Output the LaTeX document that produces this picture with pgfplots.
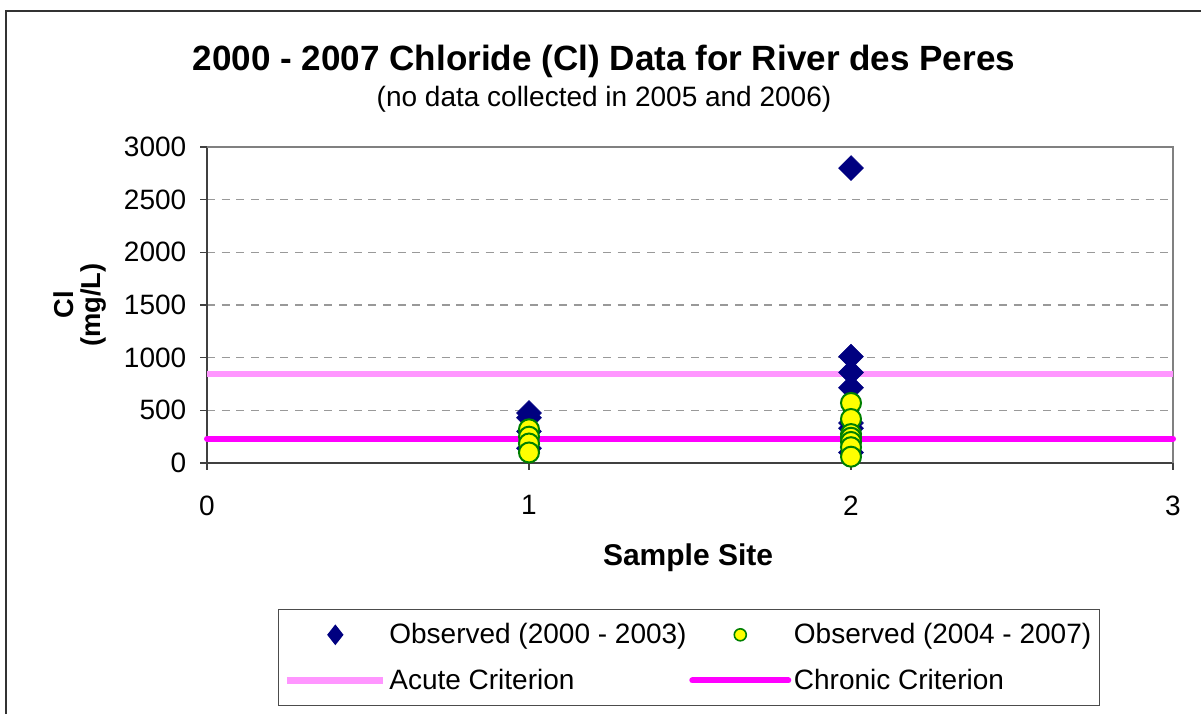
\documentclass[border=0pt]{standalone}
\usepackage{pgfplots}
\pgfplotsset{compat=1.18}
\usepackage{fontspec}
\setmainfont{Liberation Sans}
\definecolor{navy}{RGB}{0,0,128}
\definecolor{mgreen}{RGB}{0,128,0}
\definecolor{myellow}{RGB}{255,255,0}
\definecolor{mmag}{RGB}{255,0,255}
\definecolor{acute}{RGB}{255,150,255}
\begin{document}
\begin{tikzpicture}[x=0.75pt,y=0.75pt]
\useasboundingbox (0,0) rectangle (1201,714);
\draw[line width=1.5pt, black!80] (6,0) -- (6,703) -- (1201,703);
\node[font=\fontsize{26.3}{30}\selectfont\bfseries, anchor=base] at (604,643) {2000 - 2007 Chloride (Cl) Data for River des Peres};
\node[font=\fontsize{21}{25}\selectfont, anchor=base] at (604,607) {(no data collected in 2005 and 2006)};
\begin{axis}[
  at={(155.25pt,188.25pt)}, anchor=south west,
  scale only axis, width=724.5pt, height=237pt,
  xmin=0, xmax=3, ymin=0, ymax=3000,
  xtick={0,1,2,3}, ytick={0,500,...,3000},
  /pgf/number format/1000 sep={},
  /pgf/number format/assume math mode=true,
  ticklabel style={font=\fontsize{21}{25}\selectfont},
  xticklabel style={yshift=-16pt},
  yticklabel style={xshift=-7pt},
  ymajorgrids,
  major grid style={dash pattern=on 6pt off 5pt, black!40, line width=0.9pt},
  axis x line*=bottom, axis y line*=left,
  axis line style={-, black!75, line width=1.4pt},
  tick style={black!75, line width=0.8pt},
  tick align=outside, major tick length=5pt,
  xlabel={Sample Site},
  xlabel style={font=\fontsize{22.5}{26}\selectfont\bfseries, at={(axis description cs:0.498,-0.3)}, anchor=center},
  ylabel={Cl\\(mg/L)},
  ylabel style={font=\fontsize{20.5}{20.5}\selectfont\bfseries, align=center, at={(axis description cs:-0.1315,0.5)}, anchor=center},
  clip=false,
  legend columns=2,
  legend cell align=left,
  legend style={at={(0.0735,-0.462)}, anchor=north west, draw=black!70, line width=1pt,
    font=\fontsize{21}{25}\selectfont, inner xsep=4pt, inner ysep=8.5pt,
    /tikz/every even column/.append style={column sep=0pt},
    row sep=13.5pt},
]
\draw[black!50, line width=1.5pt] (rel axis cs:0,1) -- (rel axis cs:1,1) -- (rel axis cs:1,0);
\addplot[acute, line width=5pt, forget plot] coordinates {(0,845) (3,845)};
\addplot[mmag, line width=4.5pt, line cap=round, forget plot] coordinates {(0,230) (3,230)};

\addplot[only marks, mark=square*, mark size=6.6pt, mark options={rotate=45, fill=navy, draw=navy},
  legend image code/.code={\path[draw=none,fill=none] (0pt,0pt) -- (72pt,0pt); \fill[navy] (36pt,7pt) -- (30.5pt,0pt) -- (36pt,-7pt) -- (41.5pt,0pt) -- cycle;}]
coordinates {
(1,475) (1,430) (1,300) (1,140)
(2,2800) (2,1010) (2,860) (2,715) (2,380) (2,330) (2,100)
};
\addlegendentry{Observed (2000 - 2003)}

\addplot[only marks, mark=*, mark size=7.5pt, mark options={fill=myellow, draw=mgreen, line width=1.5pt},
  legend image code/.code={\path[draw=none,fill=none] (0pt,0pt) -- (72pt,0pt); \filldraw[draw=mgreen, fill=myellow, line width=1.2pt] (36pt,0pt) circle (4.5pt);}]
coordinates {
(1,320) (1,250) (1,185) (1,100)
(2,570) (2,418) (2,275) (2,240) (2,200) (2,150) (2,60)
};
\addlegendentry{Observed (2004 - 2007)}

\addlegendimage{legend image code/.code={\draw[acute, line width=5pt] (0pt,0pt) -- (72pt,0pt);}}
\addlegendentry{Acute Criterion}
\addlegendimage{legend image code/.code={\draw[mmag, line width=4.5pt, line cap=round] (0pt,0pt) -- (72pt,0pt);}}
\addlegendentry{Chronic Criterion}
\end{axis}
\end{tikzpicture}
\end{document}
